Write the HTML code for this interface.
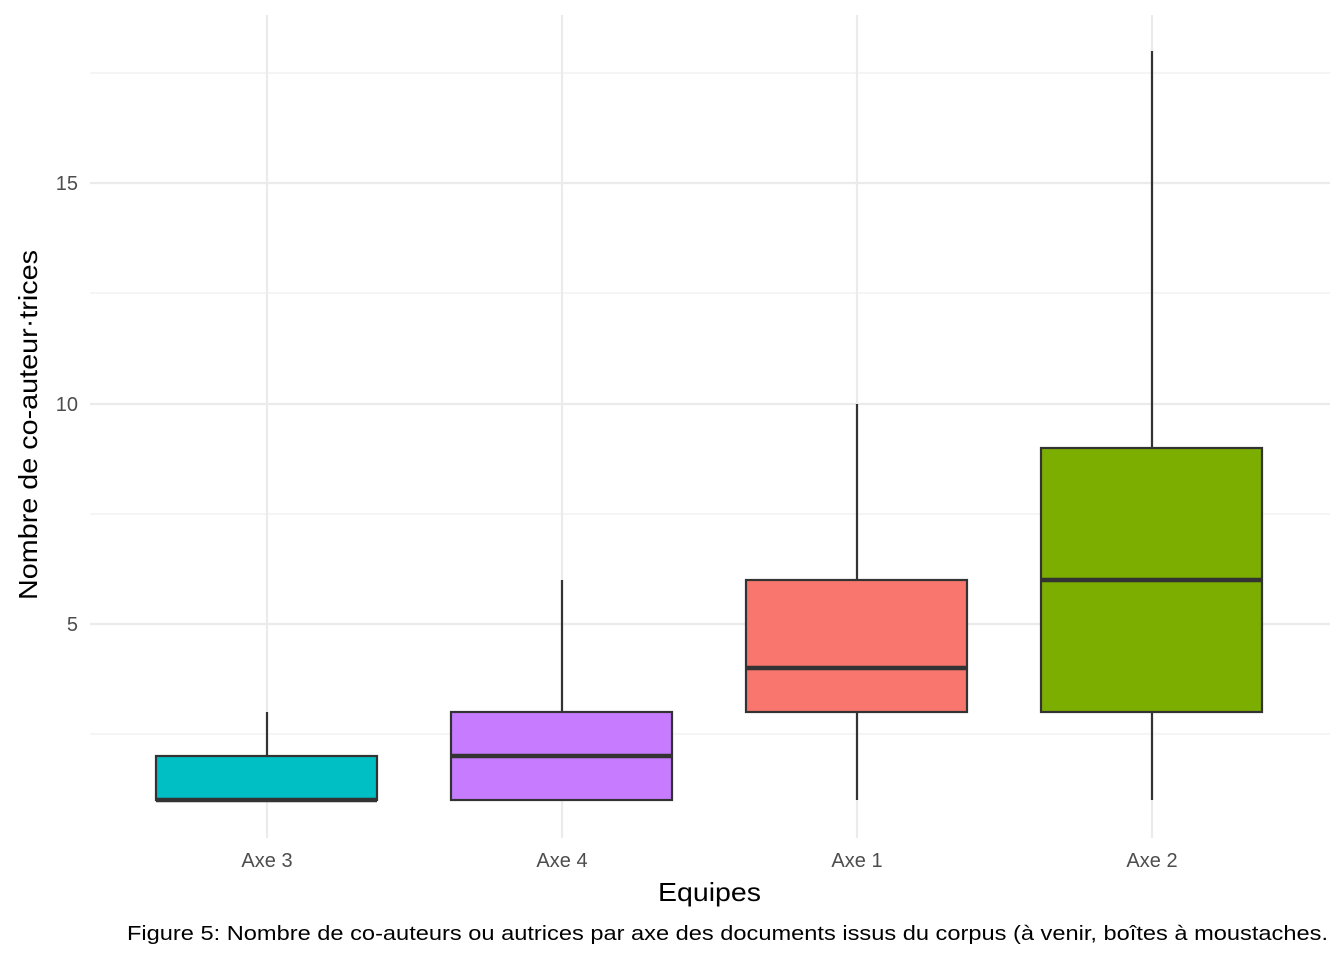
<!DOCTYPE html>
<html><head><meta charset="utf-8"><style>
html,body{margin:0;padding:0;background:#fff;}
svg{display:block;font-family:"Liberation Sans",sans-serif;}
</style></head><body>
<svg width="1344" height="960" viewBox="0 0 1344 960" xmlns="http://www.w3.org/2000/svg">
<rect width="1344" height="960" fill="#fff"/>
<g stroke="#ebebeb" stroke-width="1.1">
<line x1="90" x2="1330" y1="73" y2="73"/><line x1="90" x2="1330" y1="293" y2="293"/>
<line x1="90" x2="1330" y1="514" y2="514"/><line x1="90" x2="1330" y1="734" y2="734"/>
</g>
<g stroke="#ebebeb" stroke-width="2.2">
<line x1="90" x2="1330" y1="183" y2="183"/><line x1="90" x2="1330" y1="404" y2="404"/>
<line x1="90" x2="1330" y1="624" y2="624"/>
<line x1="267" x2="267" y1="15" y2="838"/><line x1="562" x2="562" y1="15" y2="838"/>
<line x1="857" x2="857" y1="15" y2="838"/><line x1="1152" x2="1152" y1="15" y2="838"/>
</g>
<g stroke="#333" stroke-width="2.2">
<line x1="267" x2="267" y1="712" y2="756"/>
<rect x="156" y="756" width="221" height="44" fill="#00BFC4"/>
<line x1="156" x2="377" y1="800" y2="800" stroke-width="4.5"/>
<line x1="562" x2="562" y1="580" y2="712"/>
<rect x="451" y="712" width="221" height="88" fill="#C77CFF"/>
<line x1="451" x2="672" y1="756" y2="756" stroke-width="4.5"/>
<line x1="857" x2="857" y1="404" y2="580"/><line x1="857" x2="857" y1="712" y2="800"/>
<rect x="746" y="580" width="221" height="132" fill="#F8766D"/>
<line x1="746" x2="967" y1="668" y2="668" stroke-width="4.5"/>
<line x1="1152" x2="1152" y1="51" y2="448"/><line x1="1152" x2="1152" y1="712" y2="800"/>
<rect x="1041" y="448" width="221" height="264" fill="#7CAE00"/>
<line x1="1041" x2="1262" y1="580" y2="580" stroke-width="4.5"/>
</g>
<g fill="#4d4d4d" font-size="20" text-anchor="end">
<text x="78" y="190">15</text><text x="78" y="411">10</text><text x="78" y="631">5</text>
</g>
<g fill="#4d4d4d" font-size="20" text-anchor="middle">
<text x="267" y="867">Axe 3</text><text x="562" y="867">Axe 4</text>
<text x="857" y="867">Axe 1</text><text x="1152" y="867">Axe 2</text>
</g>
<text x="658" y="901" font-size="26" textLength="103" lengthAdjust="spacingAndGlyphs" fill="#000">Equipes</text>
<text transform="translate(37,600) rotate(-90)" font-size="26" textLength="350" lengthAdjust="spacingAndGlyphs" fill="#000">Nombre de co-auteur·trices</text>
<text x="127" y="940" font-size="20" textLength="1201" lengthAdjust="spacingAndGlyphs" fill="#000">Figure 5: Nombre de co-auteurs ou autrices par axe des documents issus du corpus (à venir, boîtes à moustaches.</text>
</svg>
</body></html>
